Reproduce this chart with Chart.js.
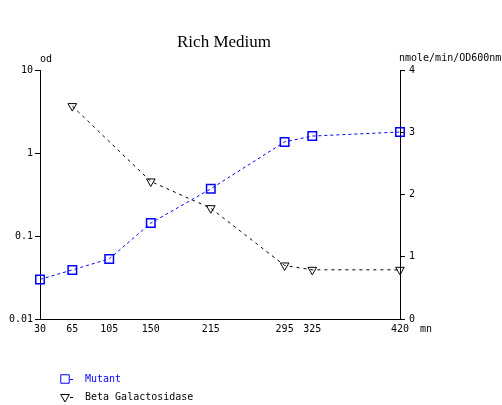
<!DOCTYPE html>
<html>
<head>
<meta charset="utf-8">
<script src="https://cdn.jsdelivr.net/npm/chart.js@4"></script>
<style>
    body { margin: 0; background: #fff; }
    #wrap { width: 502px; height: 405px; position: relative; }
</style>
</head>
<body>
<div id="wrap"><canvas id="chart"></canvas></div>
<script>
// time points (mn)
const times = [30, 65, 105, 150, 215, 295, 325, 420];
// mutant od (log axis, left)
const mutant = [0.030, 0.039, 0.053, 0.143, 0.37, 1.36, 1.60, 1.79];
// beta galactosidase (nmole/min/OD600nm, right axis)
const betaTimes = [65, 150, 215, 295, 325, 420];
const betaGal = [3.42, 2.21, 1.78, 0.86, 0.79, 0.79];
const odTicks = [0.01, 0.1, 1, 10];

const BLUE = '#0000ff';
const MONO = '"DejaVu Sans Mono", monospace';

Chart.defaults.font.family = MONO;
Chart.defaults.font.size = 10;
Chart.defaults.color = '#000';

const textPlugin = {
    id: 'texts',
    afterDraw(chart) {
        const ctx = chart.ctx;
        const area = chart.chartArea;
        ctx.save();
        ctx.fillStyle = '#000';
        ctx.font = '17px "Liberation Serif", serif';
        ctx.textAlign = 'center';
        ctx.textBaseline = 'alphabetic';
        ctx.fillText('Rich Medium', 224, 47);

        ctx.font = '10px ' + MONO;
        ctx.textBaseline = 'middle';
        ctx.textAlign = 'left';
        ctx.fillText('od', area.left, 59);
        ctx.fillText('nmole/min/OD600nm', area.right - 1, 58);
        ctx.fillText('mn', area.right + 20, 329);

        // legend
        const items = [
            {label: 'Mutant', color: BLUE, style: 'rect', radius: 6, rotation: 0, y: 379},
            {label: 'Beta Galactosidase', color: '#000', style: 'triangle', radius: 5, rotation: 180, y: 397},
        ];
        items.forEach(it => {
            ctx.strokeStyle = it.color;
            ctx.fillStyle = 'rgba(0,0,0,0)';
            ctx.lineWidth = 1;
            Chart.helpers.drawPoint(ctx, {pointStyle: it.style, radius: it.radius, rotation: it.rotation, borderWidth: 1}, 65, it.y);
            ctx.beginPath();
            ctx.moveTo(70, it.y + 0.5);
            ctx.lineTo(73, it.y + 0.5);
            ctx.stroke();
            ctx.fillStyle = it.color;
            ctx.fillText(it.label, 85, it.y);
        });
        ctx.restore();
    }
};

new Chart(document.getElementById('chart').getContext('2d'), {
    type: 'line',
    data: {
        datasets: [
            {
                label: 'Mutant',
                data: times.map((t, i) => ({x: t, y: mutant[i]})),
                yAxisID: 'y',
                clip: false,
                borderColor: BLUE,
                backgroundColor: 'rgba(0,0,0,0)',
                borderWidth: 1,
                borderDash: [3, 3],
                pointStyle: 'rect',
                pointRadius: 6,
                pointBorderColor: BLUE,
                pointBorderWidth: 1.5,
                pointBackgroundColor: 'rgba(0,0,0,0)',
            },
            {
                label: 'Beta Galactosidase',
                data: betaTimes.map((t, i) => ({x: t, y: betaGal[i]})),
                yAxisID: 'y1',
                clip: false,
                borderColor: '#000',
                backgroundColor: 'rgba(0,0,0,0)',
                borderWidth: 1,
                borderDash: [3, 4],
                pointStyle: 'triangle',
                pointRotation: 180,
                pointRadius: 5,
                pointBorderColor: '#000',
                pointBorderWidth: 1,
                pointBackgroundColor: 'rgba(0,0,0,0)',
            },
        ],
    },
    options: {
        responsive: true,
        maintainAspectRatio: false,
        animation: false,
        devicePixelRatio: 1,
        layout: {
            padding: {top: 70, left: 0, right: 0, bottom: 0},
        },
        plugins: {
            legend: {display: false},
            tooltip: {enabled: false},
        },
        scales: {
            x: {
                type: 'linear',
                min: 30,
                max: 420,
                afterBuildTicks: (s) => { s.ticks = times.map(v => ({value: v})); },
                afterFit: (s) => { s.height = 86; },
                ticks: {
                    padding: 4,
                    maxRotation: 0,
                    autoSkip: false,
                    callback: (v) => String(v),
                },
                grid: {display: true, drawOnChartArea: false, drawTicks: false},
                border: {color: '#000', width: 1},
            },
            y: {
                type: 'logarithmic',
                position: 'left',
                min: 0.01,
                max: 10,
                afterBuildTicks: (s) => { s.ticks = odTicks.map(v => ({value: v})); },
                afterFit: (s) => { s.width = 40; },
                ticks: {
                    padding: 2,
                    autoSkip: false,
                    callback: (v) => String(v),
                },
                grid: {drawOnChartArea: false, drawTicks: true, tickLength: 5, color: '#000'},
                border: {color: '#000', width: 1},
            },
            y1: {
                type: 'linear',
                position: 'right',
                min: 0,
                max: 4,
                afterFit: (s) => { s.width = 102; },
                ticks: {
                    stepSize: 1,
                    padding: 4,
                },
                grid: {drawOnChartArea: false, drawTicks: true, tickLength: 5, color: '#000'},
                border: {color: '#000', width: 1},
            },
        },
    },
    plugins: [textPlugin],
});
</script>
</body>
</html>
